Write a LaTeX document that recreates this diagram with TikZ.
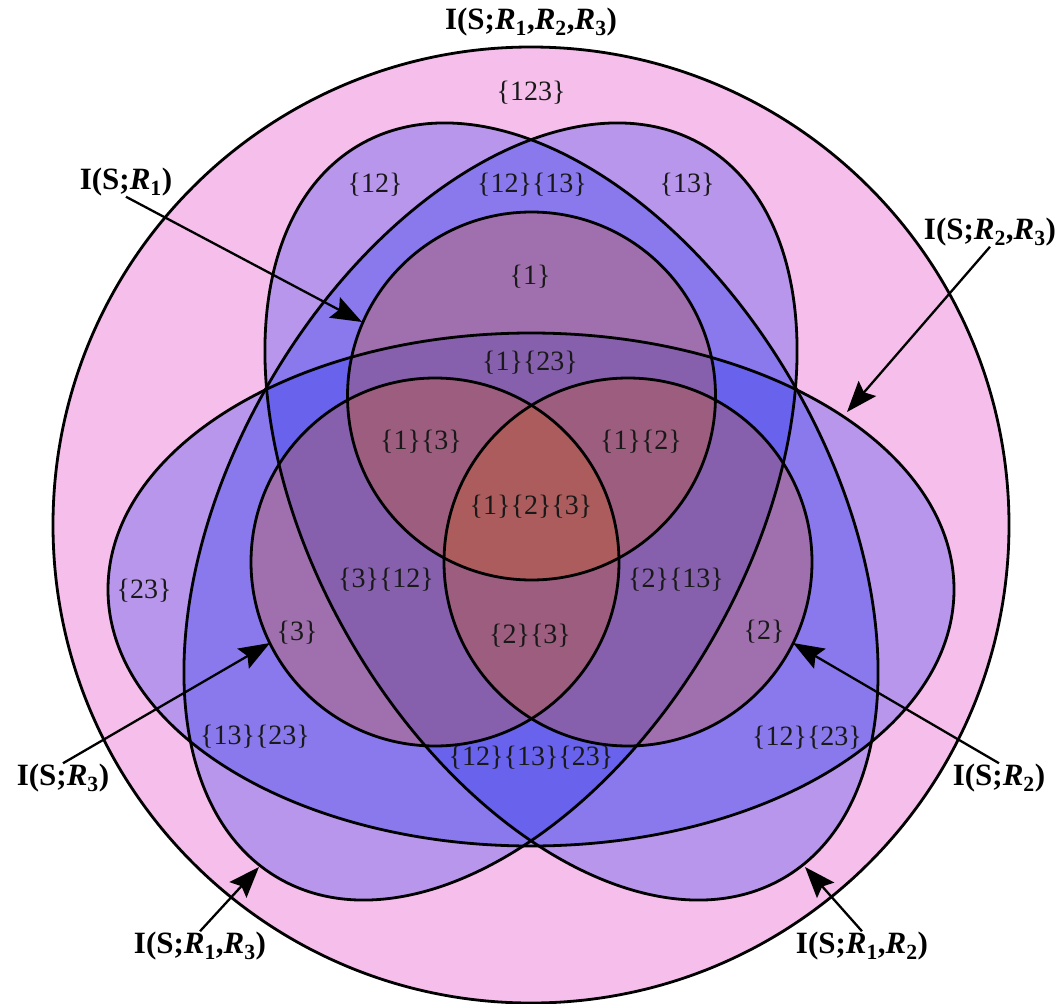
\documentclass[tikz,border=0pt]{standalone}
\usepackage{fontspec}
\setmainfont{Liberation Serif}
\usetikzlibrary{arrows.meta}
\definecolor{pinkbg}{RGB}{245,190,235}
\definecolor{ellcol}{RGB}{10,36,240}
\definecolor{circcol}{RGB}{218,90,0}
\begin{document}
\begin{tikzpicture}[x=1pt,y=-1pt,
  region/.style={font=\fontsize{28}{30}\selectfont, text=black!90, inner sep=0pt},
  infolabel/.style={font=\fontsize{31}{33}\selectfont\bfseries, inner sep=0.5pt},
  outline/.style={draw=black, line width=2.8pt},
  ellfill/.style={fill=ellcol, fill opacity=0.26},
  circfill/.style={fill=circcol, fill opacity=0.266},
  pointer/.style={line width=2.3pt, -{Stealth[length=31pt,width=23pt,inset=5pt]}}]
\fill[white] (0,0) rectangle (1061,1004);
\useasboundingbox (0,0) rectangle (1061,1004);
% outer circle
\fill[pinkbg] (531,525) circle[radius=478pt];
\draw[outline] (531,525) circle[radius=478pt];
% ellipses (fills)
\fill[ellfill] (531,589.5) ellipse[x radius=423pt, y radius=256.5pt];
\begin{scope}[shift={(571.5,511.5)}, rotate=120]
  \fill[ellfill] (0,0) ellipse[x radius=423.5pt, y radius=256pt];
\end{scope}
\begin{scope}[shift={(490.5,511.5)}, rotate=60]
  \fill[ellfill] (0,0) ellipse[x radius=423.5pt, y radius=256pt];
\end{scope}
% circles (fills)
\fill[circfill] (531.5,396) circle[radius=184pt];
\fill[circfill] (435,562) circle[radius=184pt];
\fill[circfill] (628,562) circle[radius=184pt];
% outlines
\draw[outline] (531,589.5) ellipse[x radius=423pt, y radius=256.5pt];
\begin{scope}[shift={(571.5,511.5)}, rotate=120]
  \draw[outline] (0,0) ellipse[x radius=423.5pt, y radius=256pt];
\end{scope}
\begin{scope}[shift={(490.5,511.5)}, rotate=60]
  \draw[outline] (0,0) ellipse[x radius=423.5pt, y radius=256pt];
\end{scope}
\draw[outline] (531.5,396) circle[radius=184pt];
\draw[outline] (435,562) circle[radius=184pt];
\draw[outline] (628,562) circle[radius=184pt];
% region labels
\node[region] (r123) at (531,93) {\{123\}};
\node[region] (r12) at (375,185) {\{12\}};
\node[region] (r12r13) at (532,185) {\{12\}\{13\}};
\node[region] (r13) at (687,185) {\{13\}};
\node[region] (r1) at (530,277) {\{1\}};
\node[region] (r1r23) at (530,363) {\{1\}\{23\}};
\node[region] (r1r3) at (421,442) {\{1\}\{3\}};
\node[region] (r1r2) at (641,442) {\{1\}\{2\}};
\node[region] (r1r2r3) at (531,507) {\{1\}\{2\}\{3\}};
\node[region] (r3r12) at (386,580) {\{3\}\{12\}};
\node[region] (r2r13) at (676,580) {\{2\}\{13\}};
\node[region] (r2r3) at (530,636) {\{2\}\{3\}};
\node[region] (r3) at (297,633) {\{3\}};
\node[region] (r2) at (764,632) {\{2\}};
\node[region] (r23) at (144,591) {\{23\}};
\node[region] (r13r23) at (255,737) {\{13\}\{23\}};
\node[region] (r12r23) at (807,738) {\{12\}\{23\}};
\node[region] (r12r13r23) at (531,758) {\{12\}\{13\}\{23\}};
% information labels
\node[infolabel] (lall) at (531,22) {I(S;\textit{R}\textsubscript{1},\textit{R}\textsubscript{2},\textit{R}\textsubscript{3})};
\node[infolabel] (lR1) at (126,182) {I(S;\textit{R}\textsubscript{1})};
\node[infolabel] (lR23) at (990,232) {I(S;\textit{R}\textsubscript{2},\textit{R}\textsubscript{3})};
\node[infolabel] (lR3) at (63,778) {I(S;\textit{R}\textsubscript{3})};
\node[infolabel] (lR2) at (999,778) {I(S;\textit{R}\textsubscript{2})};
\node[infolabel] (lR13) at (200,946) {I(S;\textit{R}\textsubscript{1},\textit{R}\textsubscript{3})};
\node[infolabel] (lR12) at (862,946) {I(S;\textit{R}\textsubscript{1},\textit{R}\textsubscript{2})};
% arrow tips
\coordinate (tR1) at (362,322);
\coordinate (tR23) at (847,412);
\coordinate (tR3) at (270,643);
\coordinate (tR2) at (793,643);
\coordinate (tR13) at (259,867);
\coordinate (tR12) at (805,867);
\draw[pointer] (lR1.south) -- (tR1);
\draw[pointer] (lR23.south) -- (tR23);
\draw[pointer] (lR3.north) -- (tR3);
\draw[pointer] (lR2.north) -- (tR2);
\draw[pointer] (lR13.north) -- (tR13);
\draw[pointer] (lR12.north) -- (tR12);
\end{tikzpicture}
\end{document}
